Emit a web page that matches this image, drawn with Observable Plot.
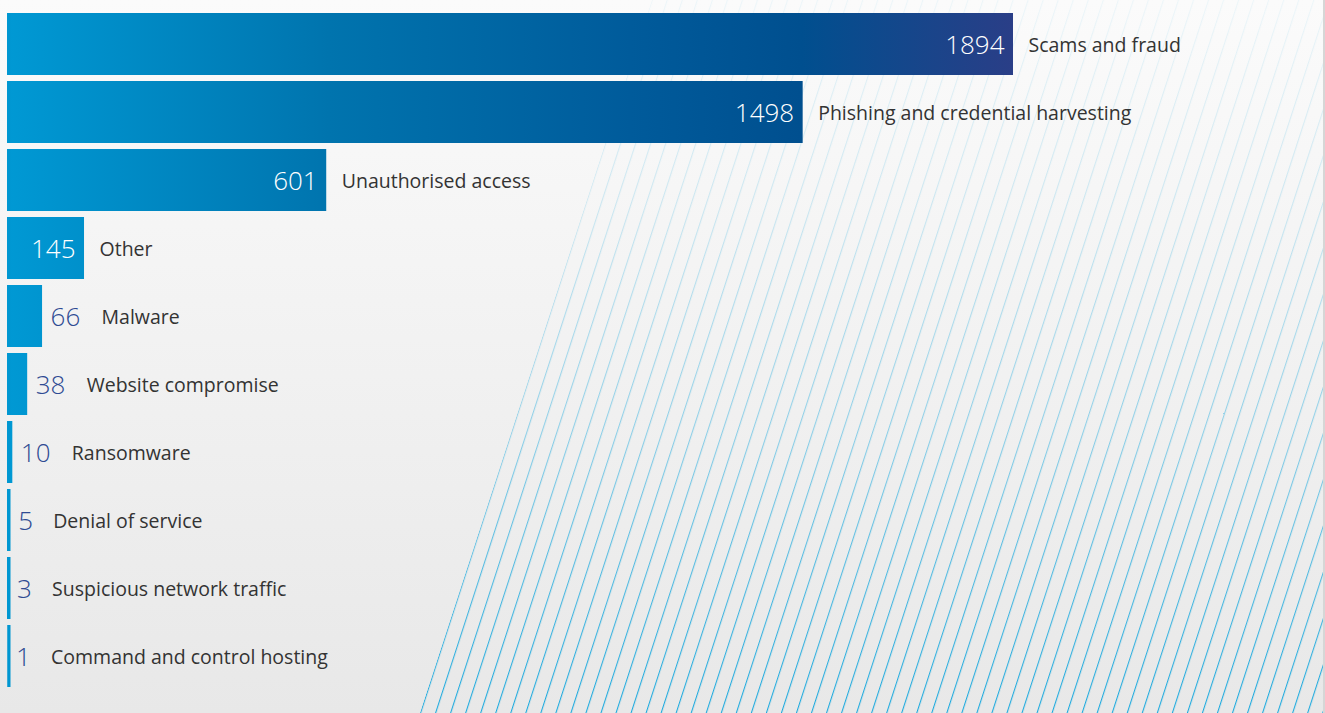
<!DOCTYPE html>
<html>
<head>
<meta charset="utf-8">
<script src="https://cdn.jsdelivr.net/npm/d3@7"></script>
<script src="https://cdn.jsdelivr.net/npm/@observablehq/plot@0.6"></script>
<style>
  html, body { margin: 0; padding: 0; background: #f4f4f4; }
  #chart { width: 1325px; height: 713px; }
</style>
</head>
<body>
<div id="chart"></div>
<script>
const categories = [
  "Scams and fraud",
  "Phishing and credential harvesting",
  "Unauthorised access",
  "Other",
  "Malware",
  "Website compromise",
  "Ransomware",
  "Denial of service",
  "Suspicious network traffic",
  "Command and control hosting"
];
const counts = [1894, 1498, 601, 145, 66, 38, 10, 5, 3, 1];

const data = categories.map((category, i) => ({category, count: counts[i]}));
const inside = data.filter(d => d.count >= 100);
const outside = data.filter(d => d.count < 100);
const out2 = outside.filter(d => String(d.count).length === 2);
const out1 = outside.filter(d => String(d.count).length === 1);

const W = 1325, H = 713;
const font = "'Open Sans', 'Noto Sans', sans-serif";

const chart = Plot.plot({
  width: W,
  height: H,
  marginLeft: 7,
  marginRight: 312,
  marginTop: 7,
  marginBottom: 20,
  style: {
    background: "linear-gradient(to bottom, #fbfbfb 0%, #e8e8e8 100%)",
    fontFamily: font,
    overflow: "visible"
  },
  x: {domain: [0, 1894], axis: null},
  y: {domain: categories, axis: null, padding: 0.088},
  marks: [
    Plot.barX(data, {y: "category", x: "count", fill: "url(#barGrad)"}),
    Plot.tickX(data, {y: "category", x: 0, stroke: "#0096d1", strokeWidth: 3, dx: 1.5}),
    Plot.text(inside, {
      y: "category", x: "count", text: d => String(d.count),
      textAnchor: "end", dx: -9, dy: 1, fill: "#ffffff", fontSize: 26, fontWeight: 350
    }),
    Plot.text(outside, {
      y: "category", x: "count", text: d => String(d.count),
      textAnchor: "start", dx: 8, dy: 1, fill: "#2e4b93", fontSize: 26, fontWeight: 350
    }),
    Plot.text(inside, {
      y: "category", x: "count", text: "category",
      textAnchor: "start", dx: 15, dy: 1.5, fill: "#333333", fontSize: 19.5
    }),
    Plot.text(out2, {
      y: "category", x: "count", text: "category",
      textAnchor: "start", dx: 59, dy: 1.5, fill: "#333333", fontSize: 19.5
    }),
    Plot.text(out1, {
      y: "category", x: "count", text: "category",
      textAnchor: "start", dx: 43, dy: 1.5, fill: "#333333", fontSize: 19.5
    })
  ]
});

// Decorations: gradient definitions, diagonal stripes behind marks
const svg = d3.select(chart);
const defs = svg.insert("defs", ":first-child");
const g = defs.append("linearGradient")
  .attr("id", "barGrad").attr("gradientUnits", "userSpaceOnUse")
  .attr("x1", 7).attr("x2", 1013).attr("y1", 0).attr("y2", 0);
[[0, "#0099d4"], [0.32, "#0074ae"], [0.62, "#005b9b"], [0.79, "#004f8f"], [1, "#2a3e87"]]
  .forEach(([o, c]) => g.append("stop").attr("offset", o).attr("stop-color", c));

const pat = defs.append("pattern")
  .attr("id", "stripes").attr("patternUnits", "userSpaceOnUse")
  .attr("width", 14.3).attr("height", 40)
  .attr("patternTransform", "translate(420,713) rotate(18)");
pat.append("rect").attr("x", 0).attr("y", 0).attr("width", 1.1).attr("height", 40).attr("fill", "#1aa9de");

const mg = defs.append("linearGradient")
  .attr("id", "fadeGrad").attr("gradientUnits", "userSpaceOnUse")
  .attr("x1", 0).attr("x2", 0).attr("y1", 0).attr("y2", H);
[[0, 0.06], [0.3, 0.2], [0.6, 0.45], [1, 1]].forEach(([o, a]) =>
  mg.append("stop").attr("offset", o).attr("stop-color", "white").attr("stop-opacity", a));
const mask = defs.append("mask").attr("id", "fadeMask").attr("maskUnits", "userSpaceOnUse")
  .attr("x", 0).attr("y", 0).attr("width", W).attr("height", H);
mask.append("rect").attr("width", W).attr("height", H).attr("fill", "url(#fadeGrad)");

const deco = svg.insert("g", "defs + *").attr("aria-hidden", "true");
deco.append("polygon")
  .attr("points", `652,0 ${W},0 ${W},${H} 420,${H}`)
  .attr("fill", "url(#stripes)")
  .attr("mask", "url(#fadeMask)");
deco.append("rect").attr("x", W - 2).attr("y", 0).attr("width", 2).attr("height", H).attr("fill", "#d6d6d6");

document.getElementById("chart").appendChild(chart);
</script>
</body>
</html>
